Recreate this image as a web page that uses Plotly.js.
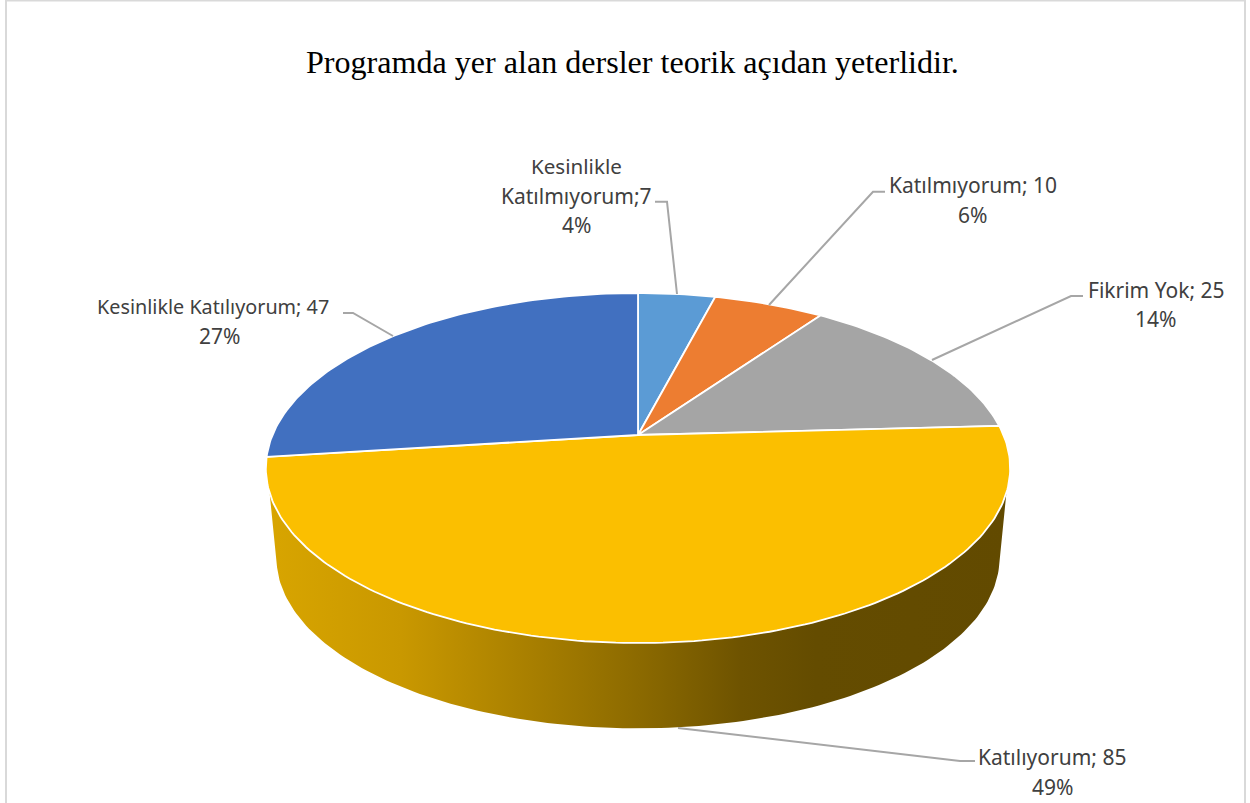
<!DOCTYPE html>
<html><head><meta charset="utf-8">
<script src="https://cdn.plot.ly/plotly-3.0.1.min.js"></script>
<style>html,body{margin:0;padding:0;background:#fff;overflow:hidden}#c{width:1250px;height:803px}</style>
</head><body><div id="c"></div>
<script>
const titleText = "Programda yer alan dersler teorik açıdan yeterlidir.";
const categories = ["Kesinlikle Katılmıyorum", "Katılmıyorum", "Fikrim Yok", "Katılıyorum", "Kesinlikle Katılıyorum"];
const values = [7, 10, 25, 85, 47];
const colors = ["#5b9bd5", "#ed7d31", "#a5a5a5", "#fbbf00", "#4170c0"];
const percents = ["4%", "6%", "14%", "49%", "27%"];

// perspective disc geometry
const total = values.reduce((a, b) => a + b, 0);
const top_ = {cx: 638, cy: 435, A: 365.5, B: 168.8, k: 0.1886};
const low = {cx: 638, cy: 526, A: 355, B: 164.2, k: 0.1886};
function pt(g, deg) {
  const t = deg * Math.PI / 180, u = Math.sin(t), v = Math.cos(t), w = 1 + g.k * v;
  return [g.cx + g.A * u / w, g.cy - g.B * v / w];
}
function arc(g, a, b) {
  const out = [], n = Math.max(2, Math.ceil(Math.abs(b - a)));
  for (let i = 0; i <= n; i++) out.push(pt(g, a + (b - a) * i / n));
  return out;
}
const traces = [];
// side wall
const wall = arc(top_, 108.8, 251.2).concat(arc(low, 256, 104));
wall.push(wall[0]);
traces.push({
  type: "scatter", mode: "lines", x: wall.map(p => p[0]), y: wall.map(p => p[1]),
  fill: "toself", line: {width: 0, color: "rgba(0,0,0,0)"}, hoverinfo: "skip", showlegend: false,
  fillgradient: {type: "horizontal", start: 268, stop: 1008, colorscale: [
    [0, "#d8a500"], [0.18, "#c99800"], [0.355, "#a87f00"], [0.5, "#8c6a00"], [0.64, "#6e5300"], [0.74, "#644c00"], [1, "#624a00"]]}
});
// top sectors
let cum = 0;
values.forEach((val, i) => {
  const a = cum / total * 360, b = (cum + val) / total * 360;
  cum += val;
  const pts = [[top_.cx, top_.cy]].concat(arc(top_, a, b));
  pts.push(pts[0]);
  traces.push({
    type: "scatter", mode: "lines", name: categories[i],
    x: pts.map(p => p[0]), y: pts.map(p => p[1]),
    fill: "toself", fillcolor: colors[i],
    line: {color: "#ffffff", width: 1.8}, hoverinfo: "name", showlegend: false
  });
});

function lab(text, x, y, size) {
  return {text, x, y, xref: "x", yref: "y", xanchor: "center", yanchor: "middle", showarrow: false,
    font: {family: "'Noto Sans', sans-serif", size: size || 21, color: "#404040"}};
}
const annotations = [
  {text: titleText, x: 632, y: 62, xref: "x", yref: "y", xanchor: "center", yanchor: "middle", showarrow: false,
   font: {family: "'Liberation Serif', serif", size: 32.1, color: "#000000"}},
  lab("Kesinlikle", 576, 166, 20.6),
  lab(categories[0].split(" ")[1] + ";" + values[0], 576, 196),
  lab(percents[0], 576, 225),
  lab(categories[1] + "; " + values[1], 973, 185),
  lab(percents[1], 972, 215),
  lab(categories[2] + "; " + values[2], 1156, 290),
  lab(percents[2], 1155, 319),
  lab(categories[3] + "; " + values[3], 1052, 757),
  lab(percents[3], 1052, 787),
  lab(categories[4] + "; " + values[4], 212.5, 306, 19.8),
  lab(percents[4], 219.5, 336)
];
const leader = {color: "#a6a6a6", width: 2};
function path(d) { return {type: "path", xref: "x", yref: "y", path: d, line: leader, layer: "above"}; }
const shapes = [
  {type: "rect", xref: "paper", yref: "paper", x0: 6 / 1250, x1: 1245 / 1250, y0: -0.01, y1: 1 - 0.6 / 803,
   line: {color: "#d9d9d9", width: 2}, layer: "below"},
  path("M655,201.7 L667,201.7 L677,294"),
  path("M885,191.7 L873,191.7 L769,305"),
  path("M1083,296 L1071,296 L932,360"),
  path("M975,761 L960,761 L678,728"),
  path("M343,313 L353,313 L393,336")
];
Plotly.newPlot("c", traces, {
  width: 1250, height: 803, margin: {l: 0, r: 0, t: 0, b: 0},
  paper_bgcolor: "#ffffff", plot_bgcolor: "#ffffff", showlegend: false,
  xaxis: {range: [0, 1250], visible: false, fixedrange: true},
  yaxis: {range: [803, 0], visible: false, fixedrange: true},
  annotations, shapes
}, {displayModeBar: false});
</script></body></html>
